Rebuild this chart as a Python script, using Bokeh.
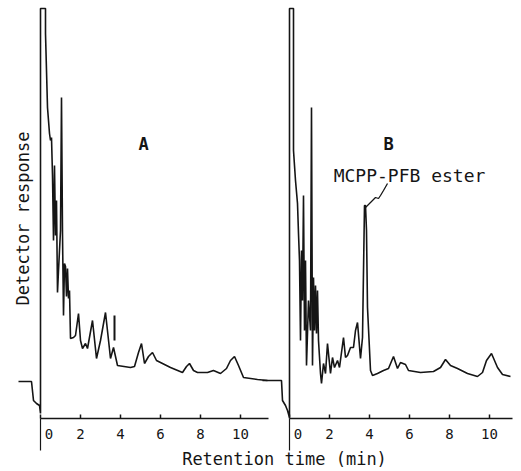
from math import pi
from bokeh.plotting import figure
from bokeh.models import Range1d, LinearAxis, FixedTicker, Label
from bokeh.embed import file_html
from bokeh.resources import INLINE

# ---- data (retention time in min, detector response in arbitrary units) ----
a_time = [-1.10, -0.45, -0.35, -0.20, -0.05, 0.00, 0.00, 0.25, 0.25, 0.35, 0.45, 0.50,
          0.55, 0.60, 0.65, 0.70, 0.75, 0.80, 0.85, 0.90, 1.00, 1.05, 1.10, 1.15, 1.20,
          1.25, 1.30, 1.35, 1.40, 1.45, 1.50, 1.65, 1.75, 1.90, 2.00, 2.10, 2.25, 2.35,
          2.60, 2.80, 3.00, 3.25, 3.50, 3.65, 3.85, 4.50, 4.70, 4.90, 5.05, 5.20, 5.40,
          5.60, 5.80, 6.00, 6.50, 7.10, 7.30, 7.45, 7.65, 7.85, 8.35, 8.65, 9.00, 9.30,
          9.50, 9.70, 9.90, 10.15, 10.85, 11.35]
a_resp = [37, 37, 18, 15, 13, 5, 410, 410, 385, 311, 285, 278,
          281, 243, 178, 253, 183, 218, 126, 148, 188, 321, 185, 103, 155,
          152, 122, 150, 120, 128, 80, 81, 83, 105, 78, 70, 75, 70,
          98, 60, 78, 106, 60, 71, 53, 51, 52, 66, 75, 55, 62,
          66, 58, 56, 51, 46, 52, 55, 48, 46, 46, 48, 45, 50,
          58, 62, 53, 41, 39, 38]

a_mark_time = [3.70, 3.70]
a_mark_resp = [78, 103]

b_time = [-1.35, -0.40, -0.35, -0.20, -0.10, 0.00, 0.00, 0.20, 0.20, 0.30, 0.40, 0.45,
          0.50, 0.55, 0.60, 0.65, 0.70, 0.75, 0.80, 0.85, 0.95, 1.05, 1.10, 1.15, 1.20,
          1.25, 1.30, 1.35, 1.40, 1.45, 1.55, 1.60, 1.70, 1.80, 1.90, 2.05, 2.15, 2.25,
          2.40, 2.50, 2.70, 2.80, 2.90, 3.05, 3.20, 3.30, 3.40, 3.55, 3.65, 3.75, 3.80,
          3.85, 3.90, 4.05, 4.15, 4.40, 4.70, 4.95, 5.20, 5.40, 5.55, 5.80, 5.95, 6.55,
          7.20, 7.55, 7.80, 8.05, 8.40, 8.90, 9.40, 9.65, 9.85, 10.10, 10.40, 10.65, 11.05]
b_resp = [38, 38, 18, 13, 8, 1, 410, 410, 268, 238, 215, 185,
          158, 78, 168, 118, 223, 88, 158, 53, 118, 88, 311, 53, 141,
          88, 133, 85, 128, 78, 45, 35, 55, 45, 75, 45, 61, 51,
          58, 51, 81, 61, 63, 71, 71, 88, 96, 60, 81, 213, 213,
          188, 111, 48, 43, 45, 48, 50, 62, 50, 56, 54, 48, 46,
          47, 51, 59, 53, 50, 45, 42, 46, 58, 65, 51, 44, 42]

leader_time = [3.80, 4.05, 4.30, 4.45, 4.55, 4.70, 4.90]
leader_resp = [211, 216, 221, 220, 223, 228, 235]

tick_values = [0, 2, 4, 6, 8, 10]
tick_labels = ["\u2007\u20070", "2", "4", "6", "8", "10"]
zero_line_resp = [-32, 0]

INK = "#151515"
FONT = "DejaVu Sans Mono"

p = figure(width=521, height=471, x_range=Range1d(-2.0, 24.05), y_range=Range1d(-53, 418),
           x_axis_location=None, y_axis_location=None, toolbar_location=None,
           output_backend="svg", min_border=0, outline_line_color=None,
           background_fill_color="white", border_fill_color="white")
p.extra_x_ranges = {"B": Range1d(-14.45, 11.6)}
p.grid.visible = False

# traces
p.line(a_time, a_resp, line_color=INK, line_width=1.6)
p.line(a_mark_time, a_mark_resp, line_color=INK, line_width=2)
p.line(b_time, b_resp, line_color=INK, line_width=1.6, x_range_name="B")
p.line(leader_time, leader_resp, line_color=INK, line_width=1.3, x_range_name="B")

# zero-time markers below the axes
p.line([0, 0], zero_line_resp, line_color=INK, line_width=1.2)
p.line([0, 0], zero_line_resp, line_color=INK, line_width=1.2, x_range_name="B")

# axes
def make_axis(rng, bounds):
    ax = LinearAxis(x_range_name=rng, ticker=FixedTicker(ticks=tick_values),
                    fixed_location=0, bounds=bounds,
                    major_label_overrides={v: l for v, l in zip(tick_values, tick_labels)},
                    axis_line_color=INK, axis_line_width=1.5,
                    major_tick_in=4, major_tick_out=0, major_tick_line_color=INK,
                    major_tick_line_width=1.5,
                    minor_tick_in=0, minor_tick_out=0,
                    major_label_standoff=7,
                    major_label_text_font=FONT, major_label_text_font_size="14px",
                    major_label_text_color=INK)
    return ax

p.add_layout(make_axis("default", (0, 11.4)), "below")
p.add_layout(make_axis("B", (0, 11.15)), "below")

# texts
p.add_layout(Label(x=-0.9, y=200, text="Detector response", angle=pi / 2,
                   text_align="center", text_baseline="middle", text_font=FONT,
                   text_font_size="17px", text_color=INK))
p.add_layout(Label(x=12.2, y=-40, text="Retention time (min)", text_align="center",
                   text_baseline="middle", text_font=FONT, text_font_size="17px",
                   text_color=INK))
p.add_layout(Label(x=5.15, y=275, text="A", text_align="center", text_baseline="middle",
                   text_font=FONT, text_font_size="17px", text_font_style="bold",
                   text_color=INK))
p.add_layout(Label(x=4.95, y=275, x_range_name="B", text="B", text_align="center",
                   text_baseline="middle", text_font=FONT, text_font_size="17px",
                   text_font_style="bold", text_color=INK))
p.add_layout(Label(x=6.0, y=243, x_range_name="B", text="MCPP-PFB ester",
                   text_align="center", text_baseline="middle", text_font=FONT,
                   text_font_size="18px", text_color=INK))

open("out.html", "w").write(file_html(p, INLINE))
